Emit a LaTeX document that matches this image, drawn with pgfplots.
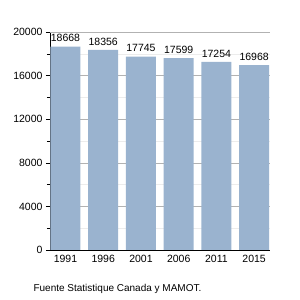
\documentclass[border=0pt]{standalone}
\usepackage{pgfplots}
\pgfplotsset{compat=1.18}
\usepackage{fontspec}
\setmainfont{Liberation Sans}
\definecolor{barc}{RGB}{154,179,207}
\begin{document}
\begin{tikzpicture}
\path[use as bounding box] (0pt,0pt) rectangle (300pt,300pt);
\begin{axis}[
  at={(50pt,50pt)}, anchor=south west,
  scale only axis, width=220pt, height=218pt,
  xmin=-0.41, xmax=5.42, ymin=0, ymax=20000,
  xtick=data, xticklabels={1991,1996,2001,2006,2011,2015},
  ytick={0,4000,8000,12000,16000,20000},
  minor ytick={2000,6000,10000,14000,18000},
  scaled y ticks=false,
  yticklabel style={/pgf/number format/1000 sep={}, font=\fontsize{10.5}{12}\selectfont},
  /pgf/number format/assume math mode=true,
  xticklabel style={font=\fontsize{10.5}{12}\selectfont, yshift=2pt},
  axis x line*=bottom, axis y line*=left,
  x axis line style={black, -}, y axis line style={black, -},
  ymajorgrids, yminorgrids,
  major grid style={gray!60, line width=0.5pt},
  minor grid style={gray!15, line width=0.5pt},
  ytick style={black}, minor tick length=3pt, major tick length=4pt,
  tick align=outside,
  xtick style={draw=none},
  ybar, bar width=30pt,
  nodes near coords,
  nodes near coords style={font=\fontsize{10.5}{12}\selectfont, /pgf/number format/1000 sep={}, /pgf/number format/assume math mode=true, yshift=1pt},
  clip=false,
]
\addplot[fill=barc, draw=none] coordinates {(0,18668) (1,18356) (2,17745) (3,17599) (4,17254) (5,16968)};
\draw[gray!60, line width=0.5pt] (axis cs:-0.41,20000) -- (axis cs:5.42,20000);
\end{axis}
\node[anchor=base west, font=\fontsize{10}{12}\selectfont] at (30pt,9pt) {Fuente Statistique Canada y MAMOT.};
\end{tikzpicture}
\end{document}
